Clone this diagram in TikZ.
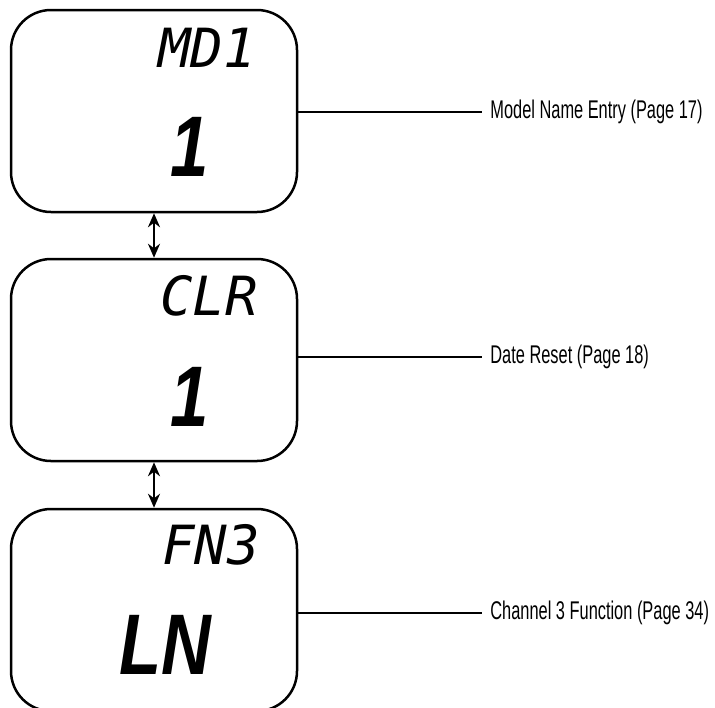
\documentclass[tikz,border=0pt]{standalone}
\usepackage{fontspec}
\setmainfont{Liberation Sans}
\newfontfamily\labelfont{Liberation Sans}[FakeStretch=0.64]
\newfontfamily\lcdfont{DejaVu Sans Mono}
\newfontfamily\lcdbigfont{Liberation Sans}[FakeStretch=0.8]
\usetikzlibrary{arrows.meta}

\tikzset{
  screen/.style={draw, line width=1.25pt, rounded corners=20pt, minimum width=143pt, minimum height=101pt, inner sep=0pt},
  pagelabel/.style={anchor=west, inner sep=4pt, font=\labelfont\fontsize{12.8}{14}\selectfont},
  lcdsmall/.style={inner sep=0pt, font=\lcdfont\itshape\fontsize{27}{27}\selectfont},
  lcdbig/.style={inner sep=0pt, font=\lcdbigfont\bfseries\itshape\fontsize{43}{43}\selectfont},
  updown/.style={{Stealth[length=7pt,width=6pt]}-{Stealth[length=7pt,width=6pt]}, line width=1.2pt},
}

\begin{document}
\begin{tikzpicture}[x=0.5pt, y=-0.5pt]
\clip (0,0) rectangle (715,707);
%screens
\node[screen] (md) at (154,111) {};
\node[screen] (clr) at (154,360) {};
\node[screen] (fn) at (154,610) {};
%display text
\node[lcdsmall, anchor=east] (mdtop) at (256,48) {MD1};
\node[lcdbig] (mdval) at (190,147) {1};
\node[lcdsmall, anchor=east] (clrtop) at (258,296) {CLR};
\node[lcdbig] (clrval) at (190,397) {1};
\node[lcdsmall, anchor=east] (fntop) at (260,545) {FN3};
\node[lcdbig] (fnval) at (165,645) {LN};
%labels
\node[pagelabel] (mdname) at (482,112) {Model Name Entry (Page 17)};
\node[pagelabel] (clrname) at (482,357) {Date Reset (Page 18)};
\node[pagelabel] (fnname) at (482,613) {Channel 3 Function (Page 34)};
\draw[line width=1pt] (mdname.west -| md.east) -- (mdname.west);
\draw[line width=1pt] (clrname.west -| clr.east) -- (clrname.west);
\draw[line width=1pt] (fnname.west -| fn.east) -- (fnname.west);
%arrows
\draw[updown] (md) -- (clr);
\draw[updown] (clr) -- (fn);
\end{tikzpicture}
\end{document}
